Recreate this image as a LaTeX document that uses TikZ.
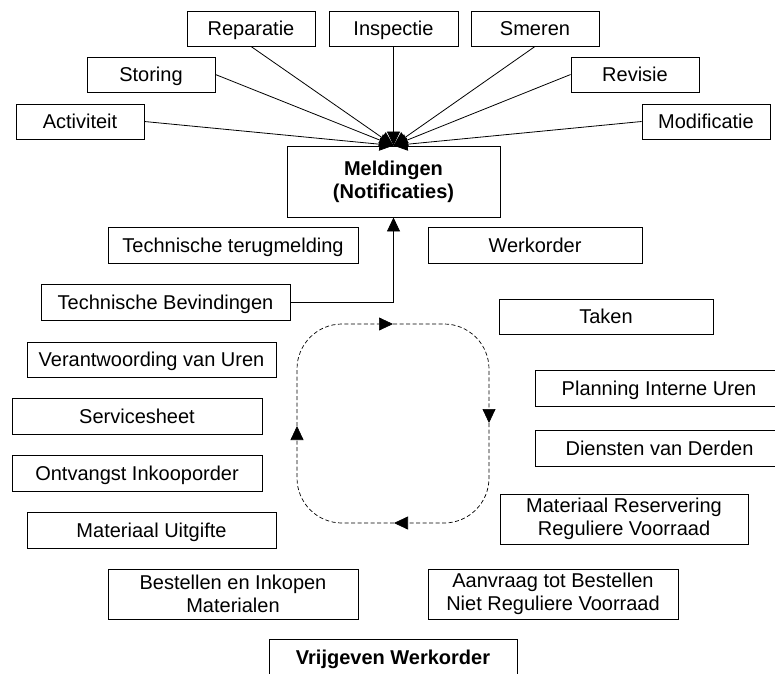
\documentclass[tikz,border=0pt]{standalone}
\usepackage{fontspec}
\setmainfont{Liberation Sans}
\usetikzlibrary{arrows.meta}
\begin{document}
\begin{tikzpicture}[x=1pt,y=-1pt,
  every node/.style={font=\fontsize{20pt}{23pt}\selectfont},
  frame/.style={draw, line width=0.9pt, fill=white, inner sep=2pt, align=center},
  box/.style={frame, text height=14.5pt, text depth=0pt, minimum height=35pt},
  bigbox/.style={frame, minimum height=50pt},
  boldtext/.style={font=\fontsize{20pt}{23pt}\selectfont\bfseries},
  link/.style={line width=0.8pt, -{Triangle[length=14pt,width=13pt]}},
  cycle/.style={line width=0.7pt, dash pattern=on 4pt off 2.5pt,
                rounded corners=45pt, -{Triangle[length=14pt,width=13pt]}}]
\useasboundingbox (0,0) rectangle (775,673);

% notification types
\node[box, minimum width=128pt] (rep)  at (251,28.5)   {Reparatie};
\node[box, minimum width=129pt] (insp) at (393.5,28.5) {Inspectie};
\node[box, minimum width=128pt] (smer) at (535,28.5)   {Smeren};
\node[box, minimum width=128pt] (stor) at (151,74.5)   {Storing};
\node[box, minimum width=128pt] (rev)  at (635,74.5)   {Revisie};
\node[box, minimum width=128pt] (act)  at (80,121.5)   {Activiteit};
\node[box, minimum width=128pt] (mod)  at (706,121.5)  {Modificatie};

% central notification box
\node[frame, boldtext, minimum width=213pt, minimum height=71pt]
  (meld) at (393.5,181.5) {Meldingen\\(Notificaties)};

% work order steps
\node[box, minimum width=250pt, minimum height=36pt] (terug)  at (233,245)   {Technische terugmelding};
\node[box, minimum width=214pt, minimum height=36pt] (werk)   at (535,245)   {Werkorder};
\node[box, minimum width=249pt, minimum height=36pt] (bev)    at (165.5,302) {Technische Bevindingen};
\node[box, minimum width=214pt]                      (taken)  at (606,316.5) {Taken};
\node[box, minimum width=249pt]                      (verant) at (151.5,359.5) {Verantwoording van Uren};
\node[box, minimum width=248pt, minimum height=36pt] (plan)   at (659,388)   {Planning Interne Uren};
\node[box, minimum width=250pt, minimum height=36pt] (serv)   at (137,416)   {Servicesheet};
\node[box, minimum width=248pt, minimum height=36pt] (dien)   at (659.5,448) {Diensten van Derden};
\node[box, minimum width=250pt, minimum height=36pt] (ontv)   at (137,473)   {Ontvangst Inkooporder};
\node[bigbox, minimum width=248pt] (reserv) at (624,519) {Materiaal Reservering\\Reguliere Voorraad};
\node[box, minimum width=249pt, minimum height=36pt] (uitg)   at (151.5,530) {Materiaal Uitgifte};
\node[bigbox, minimum width=250pt] (best)   at (233,594) {Bestellen en Inkopen\\Materialen};
\node[bigbox, minimum width=250pt] (aanv)   at (553,594) {Aanvraag tot Bestellen\\Niet Reguliere Voorraad};
\node[box, boldtext, minimum width=248pt, minimum height=36pt]
  (vrij) at (393,657) {Vrijgeven Werkorder};

% incoming notification arrows
\draw[link] (act.east)   -- (meld.north);
\draw[link] (stor.east)  -- (meld.north);
\draw[link] (rep.south)  -- (meld.north);
\draw[link] (insp.south) -- (meld.north);
\draw[link] (smer.south) -- (meld.north);
\draw[link] (rev.west)   -- (meld.north);
\draw[link] (mod.west)   -- (meld.north);

% feedback from findings
\draw[link] (bev.east) -| (meld.south);

% maintenance cycle
\coordinate (ctop)    at (393,324);
\coordinate (cright)  at (489,423);
\coordinate (cbottom) at (394,523);
\coordinate (cleft)   at (297,426);
\draw[cycle] (ctop)    -| (cright);
\draw[cycle] (cright)  |- (cbottom);
\draw[cycle] (cbottom) -| (cleft);
\draw[cycle] (cleft)   |- (ctop);
\end{tikzpicture}
\end{document}
